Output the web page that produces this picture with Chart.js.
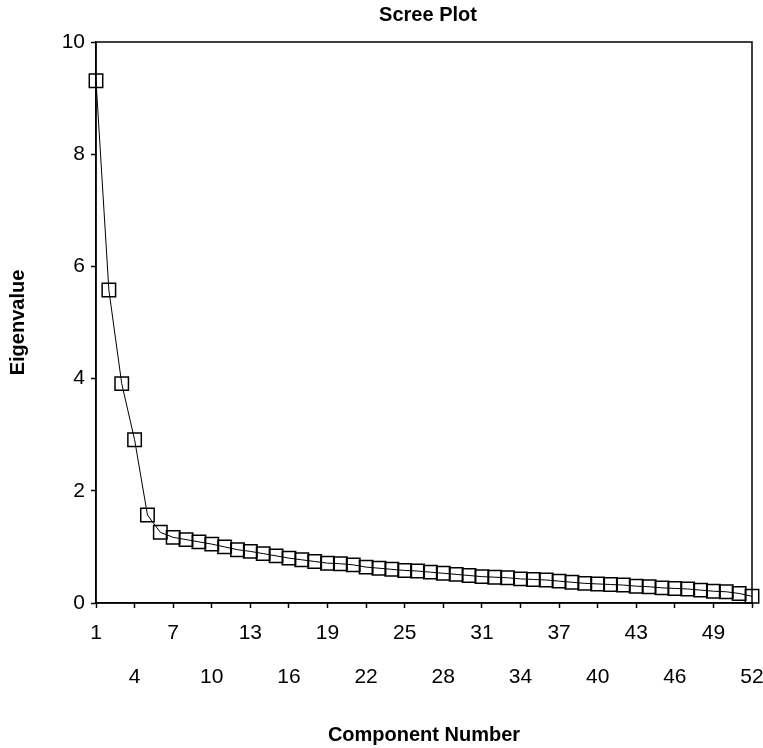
<!DOCTYPE html>
<html>
<head>
<meta charset="utf-8">
<script src="https://cdn.jsdelivr.net/npm/chart.js@4.4.1/dist/chart.umd.min.js"></script>
<style>
    body { margin: 0; background: #fff; }
    #wrap { width: 763px; height: 748px; }
</style>
</head>
<body>
<div id="wrap"><canvas id="screeChart"></canvas></div>
<script>
var chartTitle = 'Scree Plot';
var xTitle = 'Component Number';
var yTitle = 'Eigenvalue';

var components = [];
for (var i = 1; i <= 52; i++) components.push(i);

var eigenvalues = [9.31, 5.58, 3.91, 2.91, 1.57, 1.26, 1.17, 1.13, 1.09, 1.05,
                   1.00, 0.95, 0.92, 0.88, 0.84, 0.80, 0.77, 0.74, 0.71, 0.70,
                   0.68, 0.64, 0.62, 0.60, 0.58, 0.57, 0.55, 0.53, 0.51, 0.49,
                   0.47, 0.46, 0.45, 0.43, 0.42, 0.41, 0.39, 0.37, 0.35, 0.34,
                   0.33, 0.32, 0.30, 0.29, 0.27, 0.26, 0.25, 0.23, 0.21, 0.20,
                   0.17, 0.12];

var xTicks = [1, 4, 7, 10, 13, 16, 19, 22, 25, 28, 31, 34, 37, 40, 43, 46, 49, 52];
var yTicks = [0, 2, 4, 6, 8, 10];

var points = components.map(function (c, i) {
    return { x: c, y: eigenvalues[i] };
});

var fontFamily = '"Liberation Sans", Arial, sans-serif';

// frame round the plot + title centred over the plot area
var framePlugin = {
    id: 'frame',
    afterDraw: function (chart) {
        var ctx = chart.ctx;
        var a = chart.chartArea;
        ctx.save();
        ctx.strokeStyle = '#000';
        ctx.lineWidth = 1.5;
        ctx.strokeRect(a.left, a.top, a.right - a.left, a.bottom - a.top);
        ctx.fillStyle = '#000';
        ctx.font = 'bold 20px ' + fontFamily;
        ctx.textAlign = 'center';
        ctx.textBaseline = 'middle';
        ctx.fillText(chartTitle, (a.left + a.right) / 2 + 4, 15);
        ctx.restore();
    }
};

var ctx = document.getElementById('screeChart');
new Chart(ctx, {
    type: 'line',
    data: {
        datasets: [{
            data: points,
            clip: false,
            borderColor: '#000',
            borderWidth: 1,
            tension: 0,
            pointStyle: 'rect',
            pointRadius: 9.5,
            pointBorderWidth: 1.5,
            pointBorderColor: '#000',
            pointBackgroundColor: 'rgba(0,0,0,0)'
        }]
    },
    options: {
        responsive: true,
        maintainAspectRatio: false,
        animation: false,
        layout: { padding: { top: 42, right: 0, left: 0, bottom: 0 } },
        plugins: {
            legend: { display: false },
            tooltip: { enabled: false }
        },
        scales: {
            x: {
                type: 'linear',
                min: 1,
                max: 52,
                afterBuildTicks: function (scale) {
                    scale.ticks = xTicks.map(function (v) { return { value: v }; });
                },
                afterFit: function (scale) {
                    scale.height = 145;
                    scale.paddingRight = 11;
                },
                grid: { drawOnChartArea: false, tickLength: 5, color: '#000', tickWidth: 1.5 },
                border: { color: '#000', width: 1.5 },
                ticks: {
                    autoSkip: false,
                    maxRotation: 0,
                    padding: 3,
                    color: '#000',
                    font: { family: fontFamily, size: 21, lineHeight: 2.1 },
                    callback: function (v, i) {
                        return i % 2 === 0 ? [String(v), ''] : ['', String(v)];
                    }
                },
                title: {
                    display: true,
                    text: xTitle,
                    color: '#000',
                    padding: { top: 0, bottom: 1 },
                    font: { family: fontFamily, size: 20, weight: 'bold' }
                }
            },
            y: {
                min: 0,
                max: 10,
                afterBuildTicks: function (scale) {
                    scale.ticks = yTicks.map(function (v) { return { value: v }; });
                },
                afterFit: function (scale) { scale.width = 96; },
                grid: { drawOnChartArea: false, tickLength: 5, color: '#000', tickWidth: 1.5 },
                border: { color: '#000', width: 1.5 },
                ticks: {
                    padding: 6,
                    color: '#000',
                    font: { family: fontFamily, size: 21 }
                },
                title: {
                    display: true,
                    text: yTitle,
                    color: '#000',
                    padding: { top: 6, bottom: 0 },
                    font: { family: fontFamily, size: 20, weight: 'bold' }
                }
            }
        }
    },
    plugins: [framePlugin]
});
</script>
</body>
</html>
